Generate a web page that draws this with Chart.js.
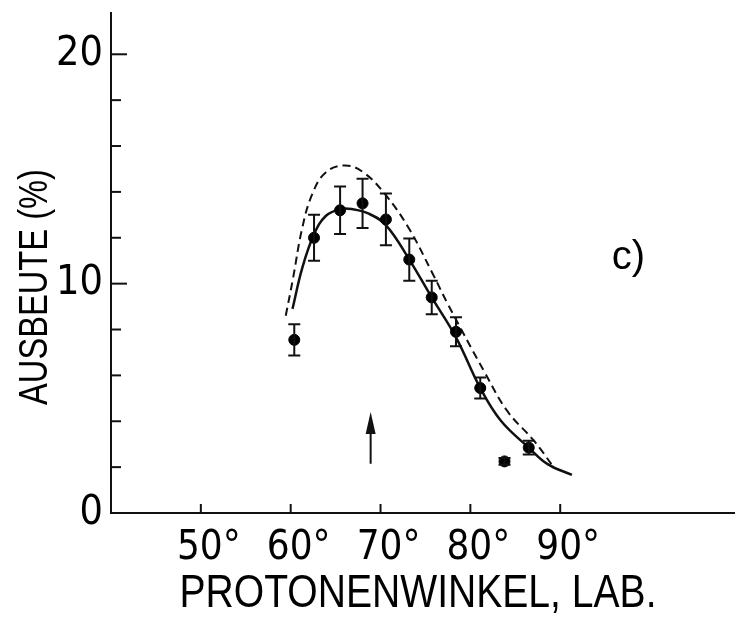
<!DOCTYPE html>
<html>
<head>
<meta charset="utf-8">
<script src="https://cdn.jsdelivr.net/npm/chart.js@4"></script>
<style>
  body { margin: 0; background: #fff; }
  #wrap { width: 741px; height: 617px; }
</style>
</head>
<body>
<div id="wrap"><canvas id="yieldChart"></canvas></div>
<script>
// measured points (angle in deg, yield in %, error)
const angles = [60.4, 62.6, 65.5, 68.0, 70.6, 73.2, 75.7, 78.4, 81.1, 83.8, 86.5]
const yields = [7.55, 12.0, 13.2, 13.5, 12.8, 11.05, 9.4, 7.9, 5.45, 2.25, 2.85]
const errors = [0.68, 1.0, 1.04, 1.07, 1.13, 0.92, 0.73, 0.63, 0.46, 0.15, 0.3]

// solid curve
const fitAngles = [60.2, 61.3, 62.6, 63.9, 65.5, 66.8, 68.7, 70.6, 73.2, 75.7, 78.4, 81.1, 83.4, 86.5, 88.6, 91.3]
const fitValues = [8.9, 10.7, 12.15, 12.95, 13.25, 13.25, 13.05, 12.55, 11.05, 9.4, 7.66, 5.45, 4.02, 2.85, 2.13, 1.66]

// dashed curve
const calcAngles = [59.45, 60.2, 61.3, 62.4, 63.9, 66.1, 68.1, 70.5, 73.1, 75.85, 77.5, 81.6, 84.1, 87.1, 89.3]
const calcValues = [8.6, 10.1, 12.45, 13.9, 14.85, 15.15, 14.85, 13.9, 12.45, 10.4, 9.1, 6.13, 4.45, 3.14, 1.98]

// arrow
const arrowAngle = 68.9
const arrowFrom = 2.15
const arrowTo = 4.4

const xTickValues = [50, 60, 70, 80, 90]
const yTickValues = [0, 2, 4, 6, 8, 10, 12, 14, 16, 18, 20]
const yTickLabels = [0, 10, 20]

const narrow = '"DejaVu Sans Condensed", "DejaVu Sans", sans-serif'
const plain = '"Liberation Sans", Arial, sans-serif'

const toPoints = (xs, ys) => xs.map((x, i) => ({ x: x, y: ys[i] }))

// text squeezed to a given width (the original lettering is condensed)
function squeezedText(ctx, text, width) {
  const w = ctx.measureText(text).width
  ctx.save()
  ctx.scale(width / w, 1)
  ctx.fillText(text, 0, 0)
  ctx.restore()
}

const extras = {
  id: 'extras',
  afterDraw(chart) {
    const { ctx, chartArea } = chart
    const x = chart.scales.x
    const y = chart.scales.y
    ctx.save()
    ctx.strokeStyle = '#111'
    ctx.fillStyle = '#111'
    ctx.lineWidth = 2

    // y tick marks (inside)
    yTickValues.forEach(v => {
      if (v === 0) return
      const py = y.getPixelForValue(v)
      const len = v % 10 === 0 ? 16 : 10
      ctx.beginPath()
      ctx.moveTo(chartArea.left, py)
      ctx.lineTo(chartArea.left + len, py)
      ctx.stroke()
    })
    // x tick marks (upwards)
    xTickValues.forEach(v => {
      const px = x.getPixelForValue(v)
      ctx.beginPath()
      ctx.moveTo(px, chartArea.bottom)
      ctx.lineTo(px, chartArea.bottom - 9)
      ctx.stroke()
    })

    // error bars
    angles.forEach((a, i) => {
      const px = x.getPixelForValue(a)
      const top = y.getPixelForValue(yields[i] + errors[i])
      const bot = y.getPixelForValue(yields[i] - errors[i])
      ctx.beginPath()
      ctx.moveTo(px, top); ctx.lineTo(px, bot)
      ctx.moveTo(px - 6, top); ctx.lineTo(px + 6, top)
      ctx.moveTo(px - 6, bot); ctx.lineTo(px + 6, bot)
      ctx.stroke()
    })

    // arrow head
    const ax = x.getPixelForValue(arrowAngle)
    const ay = y.getPixelForValue(arrowTo)
    ctx.beginPath()
    ctx.moveTo(ax, ay)
    ctx.lineTo(ax - 5, ay + 22)
    ctx.lineTo(ax + 5, ay + 22)
    ctx.closePath()
    ctx.fill()

    // texts
    ctx.fillStyle = '#000'
    ctx.font = '40px ' + plain
    ctx.textAlign = 'center'
    ctx.textBaseline = 'middle'
    ctx.fillText('c)', x.getPixelForValue(97.6), y.getPixelForValue(11.1))

    ctx.textBaseline = 'alphabetic'
    ctx.font = '46px ' + plain
    ctx.save()
    ctx.translate(418, 607)
    squeezedText(ctx, 'PROTONENWINKEL, LAB.', 477)
    ctx.restore()

    ctx.translate(47, 287)
    ctx.rotate(-Math.PI / 2)
    ctx.font = '40px ' + plain
    squeezedText(ctx, 'AUSBEUTE (%)', 236)
    ctx.restore()
  }
}

const canvas = document.getElementById('yieldChart')
new Chart(canvas.getContext('2d'), {
  type: 'scatter',
  data: {
    datasets: [
      {
        label: 'Messung',
        data: toPoints(angles, yields),
        backgroundColor: '#000',
        borderColor: '#000',
        pointRadius: 5.5,
        pointHoverRadius: 5.5
      },
      {
        type: 'line',
        label: 'Fit',
        data: toPoints(fitAngles, fitValues),
        borderColor: '#111',
        borderWidth: 2.5,
        pointRadius: 0,
        tension: 0.4,
        fill: false
      },
      {
        type: 'line',
        label: 'Rechnung',
        data: toPoints(calcAngles, calcValues),
        borderColor: '#111',
        borderWidth: 2,
        borderDash: [8, 5],
        pointRadius: 0,
        tension: 0.4,
        fill: false
      },
      {
        type: 'line',
        label: 'Pfeil',
        data: [{ x: arrowAngle, y: arrowFrom }, { x: arrowAngle, y: arrowTo - 0.5 }],
        borderColor: '#111',
        borderWidth: 2,
        pointRadius: 0,
        fill: false
      }
    ]
  },
  options: {
    responsive: true,
    maintainAspectRatio: false,
    animation: false,
    layout: { padding: { top: 13, right: 1 } },
    plugins: {
      legend: { display: false },
      tooltip: { enabled: false }
    },
    scales: {
      x: {
        type: 'linear',
        min: 40,
        max: 109.4,
        grid: { display: false },
        border: { color: '#111', width: 2 },
        afterBuildTicks: (scale) => {
          scale.ticks = xTickValues.map(v => ({ value: v }))
        },
        ticks: {
          autoSkip: false,
          maxRotation: 0,
          padding: 4,
          labelOffset: 8,
          color: '#000',
          font: { family: narrow, size: 40 },
          callback: (v) => v + '°'
        },
        afterFit: (scale) => { scale.height = 104 }
      },
      y: {
        min: 0,
        max: 21.8,
        grid: { display: false },
        border: { color: '#111', width: 2 },
        afterBuildTicks: (scale) => {
          scale.ticks = yTickValues.map(v => ({ value: v }))
        },
        ticks: {
          autoSkip: false,
          padding: 0,
          color: '#000',
          font: { family: narrow, size: 41 },
          callback: (v) => yTickLabels.includes(v) ? String(v) : ''
        },
        afterFit: (scale) => {
          scale.width = 111
          scale.paddingTop = 0
          scale.paddingBottom = 0
        }
      }
    }
  },
  plugins: [extras]
})
</script>
</body>
</html>
